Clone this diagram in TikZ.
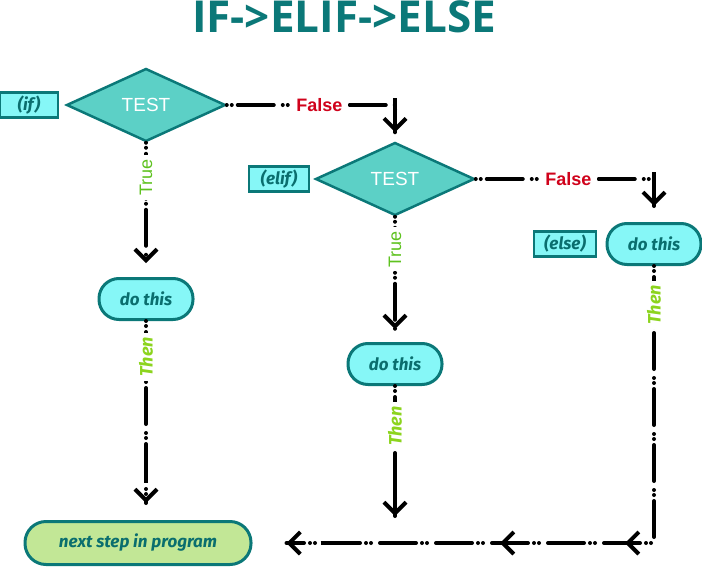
\documentclass[tikz,border=0pt]{standalone}
\usepackage{fontspec}
\setmainfont{Liberation Sans}
\newfontfamily\titlefont{Open Sans}
\newfontfamily\firafont{Fira Sans}
\usepackage{tikz}
\usetikzlibrary{positioning,shapes.geometric,arrows.meta,decorations.markings}

\definecolor{tealline}{HTML}{0B7878}
\definecolor{tealtext}{HTML}{0A6E6E}
\definecolor{diamondfill}{HTML}{5CD0C6}
\definecolor{cyanfill}{HTML}{86F7F7}
\definecolor{greenfill}{HTML}{C2E796}
\definecolor{truegreen}{HTML}{5EC21F}
\definecolor{thengreen}{HTML}{8CD41E}
\definecolor{falsered}{HTML}{D0021B}

% arrow tip drawn solid, with a short solid stem behind it
\newcommand{\barbtip}{\pgfsetdash{}{0pt}\arrow{Straight Barb[length=11pt,width=22pt]}}
\newcommand{\lasttip}{\pgfsetdash{}{0pt}\draw[line width=4pt, line cap=butt] (-34pt,0) -- (-3pt,0);
  \arrow{Straight Barb[length=11pt,width=22pt]}}

\tikzset{
  test/.style={diamond, draw=tealline, line width=2.5pt, fill=diamondfill,
    minimum width=159pt, minimum height=73pt, inner sep=0pt,
    text=white, font=\fontsize{19}{19}\selectfont},
  tag/.style={rectangle, draw=tealline, line width=2.5pt, fill=cyanfill,
    minimum height=25pt, inner sep=0pt, text=tealtext,
    font=\firafont\bfseries\itshape\fontsize{17}{17}\selectfont},
  dothis/.style={rectangle, rounded corners=20pt, draw=tealline, line width=3pt,
    fill=cyanfill, minimum width=94pt, minimum height=41pt, text=tealtext,
    font=\firafont\bfseries\itshape\fontsize{17}{17}\selectfont},
  flow/.style={line width=4pt, line cap=round,
    dash pattern=on 0pt off 5pt on 0pt off 6pt on 36pt off 9pt,
    shorten >=#1,
    postaction={decorate, decoration={markings,
      mark=at position -#1 with {\lasttip}}}},
  flow/.default=1pt,
  truelbl/.style={rotate=90, fill=white, text=truegreen, inner sep=4pt,
    font=\fontsize{18}{18}\selectfont},
  thenlbl/.style={rotate=90, fill=white, text=thengreen, inner sep=4pt,
    font=\firafont\bfseries\itshape\fontsize{18}{18}\selectfont},
  falselbl/.style={fill=white, text=falsered, inner sep=6pt,
    font=\bfseries\fontsize{18}{18}\selectfont}
}

\begin{document}
\begin{tikzpicture}[x=1pt, y=-1pt, node distance=100pt, on grid]
  \useasboundingbox (0,0) rectangle (702,568);

  \node[text=tealline, font=\titlefont\bfseries\fontsize{44}{44}\selectfont] (title) at (344,17) {IF->ELIF->ELSE};

  % the three branches
  \node[test] (test1) at (146,105) {TEST};
  \node[tag, minimum width=58pt] (ifTag) [left=117pt of test1] {(if)};
  \node[test] (test2) [below right=74pt and 249pt of test1] {TEST};
  \node[tag, minimum width=60pt] (elifTag) [left=116pt of test2] {(elif)};
  \node[dothis] (do3) [below right=65pt and 259pt of test2] {do this};
  \node[tag, minimum width=62pt] (elseTag) [left=89pt of do3] {(else)};

  \node[dothis] (do1) [below=194pt of test1] {do this};
  \node[dothis] (do2) [below=185pt of test2] {do this};

  \node[rectangle, rounded corners=21pt, draw=tealline, line width=3pt, fill=greenfill,
    minimum width=226pt, minimum height=43pt, text=tealtext,
    font=\firafont\bfseries\itshape\fontsize{17}{17}\selectfont]
    (next) [below left=244pt and 8pt of do1] {next step in program};

  % false edges
  \draw[flow=9pt] (test1.east) -- node[falselbl, pos=.55] {False} (test1.east -| test2.north) -- (test2.north);
  \draw[flow=16pt] (test2.east) -- node[falselbl, pos=.52] {False} (test2.east -| do3.north) -- (do3.north);

  % true edges
  \draw[flow=14pt] (test1.south) -- node[truelbl, pos=.26] {True} (do1.north);
  \draw[flow=13pt] (test2.south) -- node[truelbl, pos=.26] {True} (do2.north);

  % then edges
  \draw[flow=17pt] (do1.south) -- node[thenlbl, pos=.18] {Then} (do1.south |- next.north);
  \draw[flow=4pt] (do2.south) -- node[thenlbl, pos=.30] {Then} (do2.south |- next.north);
  \draw[flow=34pt,
    postaction={decorate, decoration={markings,
      mark=at position 306pt with {\barbtip},
      mark=at position 431pt with {\barbtip}}}]
    (do3.south) -- node[thenlbl, pos=.14] {Then} (do3.south |- next.east) -- (next.east);
\end{tikzpicture}
\end{document}
